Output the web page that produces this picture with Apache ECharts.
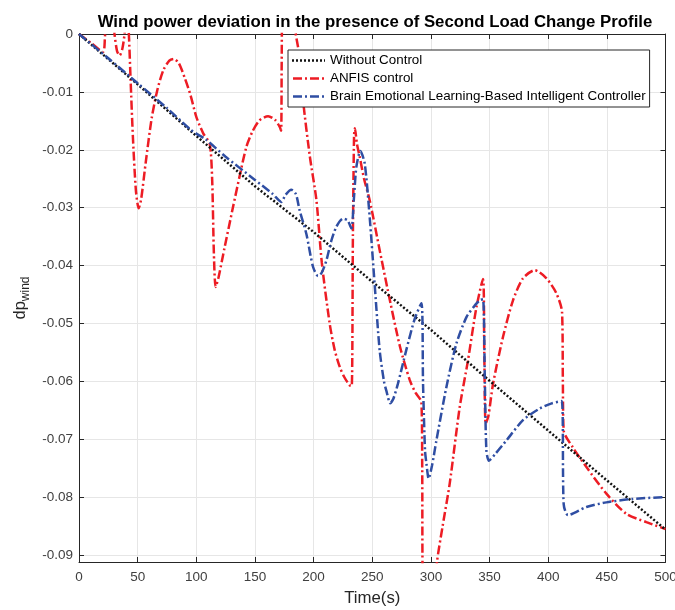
<!DOCTYPE html>
<html>
<head>
<meta charset="utf-8">
<script src="https://cdn.jsdelivr.net/npm/echarts@6/dist/echarts.min.js"></script>
<style>html,body{margin:0;padding:0;background:#fff}#c{width:675px;height:610px}</style>
</head>
<body>
<div id="c"></div>
<script>
const titleText = 'Wind power deviation in the presence of Second Load Change Profile';
const seriesNames = ['Without Control', 'ANFIS control', 'Brain Emotional Learning-Based Intelligent Controller'];
const xTicks = [0, 50, 100, 150, 200, 250, 300, 350, 400, 450, 500];
const yTicks = [0, -0.01, -0.02, -0.03, -0.04, -0.05, -0.06, -0.07, -0.08, -0.09];

const withoutControl = [
  [0, 0], [50, -0.0087], [100, -0.0176], [150, -0.0263], [200, -0.0342], [250, -0.0428],
  [300, -0.0511], [350, -0.0599], [400, -0.0685], [450, -0.0771], [500, -0.0856]
];

const anfis = [
  [0, 0], [10, -0.0015], [20.5, -0.0031], [22, -0.001], [23.5, 0.006], [27, 0.008], [30.3, 0],
  [32.5, -0.0030], [34.7, -0.0037], [37, -0.0025], [38.8, 0], [40.5, 0.006], [42.5, 0],
  [44, -0.008], [46, -0.018], [48.5, -0.027], [50.9, -0.0301], [53, -0.0285], [57, -0.022],
  [62, -0.0145], [67, -0.0095], [72, -0.0062], [77, -0.0046], [80.7, -0.0043], [85, -0.005],
  [90, -0.0075], [95, -0.0105], [100, -0.0143], [106, -0.0172], [111.4, -0.0189],
  [113.5, -0.025], [115, -0.038], [116.5, -0.0437], [119, -0.042], [124, -0.037],
  [131.3, -0.0299], [137, -0.0245], [142.7, -0.0195], [148, -0.0168], [154, -0.0149],
  [161.2, -0.0142], [167, -0.0148], [171, -0.016], [172.3, -0.0167], [172.8, -0.005],
  [173.5, 0.005], [180, 0.008], [184, 0.001], [186.7, -0.0022], [188, -0.0033], [191, -0.0114],
  [196.7, -0.0210], [202.4, -0.0287], [207, -0.0395], [213.7, -0.0500], [218, -0.0546],
  [222.3, -0.0575], [226, -0.0592], [230.8, -0.0607], [232.5, -0.0608], [233.5, -0.035],
  [234.5, -0.0175], [235.2, -0.0163], [237, -0.019], [239.3, -0.0212], [243, -0.025],
  [247.8, -0.0287], [256.3, -0.0373], [263, -0.0440], [273.4, -0.0538], [282, -0.0598],
  [287, -0.0620], [291.9, -0.0636], [292.6, -0.075], [293, -0.095], [298, -0.105],
  [303, -0.098], [305.2, -0.0912], [310, -0.085], [316, -0.0777], [324.6, -0.0644],
  [331.6, -0.0564], [338.8, -0.0472], [344.4, -0.0423], [345.5, -0.055], [346.7, -0.0673],
  [349, -0.066], [353, -0.0604], [361.5, -0.0523], [370, -0.046], [378.5, -0.0422],
  [388.5, -0.0408], [398.5, -0.0422], [407, -0.0448], [411.8, -0.048], [412.5, -0.060],
  [413.2, -0.0685], [421, -0.0714], [432.6, -0.0748], [449.6, -0.0794], [466.7, -0.0829],
  [483.7, -0.0843], [500, -0.0855]
];

const bel = [
  [0, 0], [25, -0.0042], [50, -0.0085], [75, -0.0128], [95, -0.0165], [100, -0.0172],
  [108, -0.0182], [125, -0.0212], [150, -0.0252], [165, -0.0276], [172.5, -0.0290],
  [176, -0.0278], [181, -0.0269], [185, -0.0277], [188, -0.0304], [193.8, -0.0345],
  [199.5, -0.0402], [203.8, -0.0418], [207, -0.0412], [210.9, -0.0391], [215, -0.0358],
  [219.4, -0.0333], [225, -0.0319], [229, -0.0322], [232.2, -0.0336], [234.5, -0.028],
  [236.5, -0.0229], [239.9, -0.0202], [243.6, -0.0224], [247.8, -0.0316], [252, -0.0431],
  [256.3, -0.0546], [260, -0.0600], [262, -0.0616], [265.4, -0.0638], [268, -0.0630],
  [271.9, -0.0604], [279, -0.0546], [286.2, -0.0492], [291.9, -0.0465], [293.3, -0.0604],
  [295, -0.072], [296.2, -0.0742], [298.1, -0.0768], [301, -0.0745], [304.7, -0.0702],
  [313.2, -0.0610], [321.7, -0.0535], [330.3, -0.0489], [337, -0.0470], [341.6, -0.0460],
  [344.4, -0.0458], [346, -0.060], [347.3, -0.0719], [349.5, -0.0737], [355, -0.0725],
  [364.4, -0.0702], [378.5, -0.0667], [392.7, -0.0647], [403, -0.0638], [411.5, -0.0634],
  [413.2, -0.0812], [416.9, -0.0831], [432.6, -0.0817], [449.6, -0.0809], [472.3, -0.0803],
  [500, -0.0800]
];

const FONT = 'Liberation Sans, Arial, Helvetica, sans-serif';
const AX = '#262626';
const RED = '#ed1c24', BLUE = '#2f4ea3', BLACK = '#111';

// legend icons drawn as dash patterns (33 x 2.5 units)
function patternPath(pattern, total, h) {
  let d = '', x = 0, i = 0;
  while (x < total) {
    const len = Math.min(pattern[i % pattern.length], total - x);
    if (i % 2 === 0 && len > 0) d += 'M' + x + ',0h' + len + 'v' + h + 'h-' + len + 'z';
    x += pattern[i % pattern.length];
    i++;
  }
  return 'path://' + d;
}
const iconDotted = patternPath([2, 2], 33, 2.5);
const iconDashDot = patternPath([9, 3, 2, 3], 33, 2.5);

const chart = echarts.init(document.getElementById('c'), null, { renderer: 'canvas' });

const xCommon = {
  type: 'value', min: 0, max: 500, interval: 50,
  axisLine: { show: true, onZero: false, lineStyle: { color: AX, width: 1 } },
  axisTick: { show: true, inside: true, length: 5, lineStyle: { color: AX } }
};
const yCommon = {
  type: 'value', min: -0.0912, max: 0, interval: 0.01,
  axisLine: { show: true, onZero: false, lineStyle: { color: AX, width: 1 } },
  axisTick: { show: true, inside: true, length: 5, lineStyle: { color: AX }, customValues: yTicks }
};

chart.setOption({
  backgroundColor: '#fff',
  animation: false,
  title: {
    text: titleText, left: 370, top: 9, textAlign: 'center',
    textStyle: { fontFamily: FONT, fontSize: 16.8, fontWeight: 'bold', color: '#000' }
  },
  grid: { left: 79, right: 9.5, top: 34, bottom: 48, containLabel: false, outerBoundsMode: 'none' },
  legend: {
    orient: 'vertical', left: 288, top: 50,
    itemWidth: 33, itemHeight: 2.5, itemGap: 3, padding: [3, 4, 3, 4],
    backgroundColor: '#fff', borderColor: AX, borderWidth: 1, borderRadius: 0,
    textStyle: { fontFamily: FONT, fontSize: 13.4, color: '#000', lineHeight: 15 },
    data: [
      { name: seriesNames[0], icon: iconDotted, itemStyle: { color: BLACK } },
      { name: seriesNames[1], icon: iconDashDot, itemStyle: { color: RED } },
      { name: seriesNames[2], icon: iconDashDot, itemStyle: { color: BLUE } }
    ]
  },
  xAxis: [
    Object.assign({}, xCommon, {
      position: 'bottom',
      splitLine: { show: true, lineStyle: { color: '#e6e6e6', width: 1 } },
      axisLabel: { color: '#404040', fontFamily: FONT, fontSize: 13.5, margin: 8,
        customValues: xTicks },
      name: 'Time(s)', nameLocation: 'middle', nameGap: 28,
      nameTextStyle: { fontFamily: FONT, fontSize: 16.8, color: '#262626' }
    }),
    Object.assign({}, xCommon, {
      position: 'top', axisLabel: { show: false }, splitLine: { show: false }
    })
  ],
  yAxis: [
    Object.assign({}, yCommon, {
      position: 'left',
      splitLine: { show: true, lineStyle: { color: '#e6e6e6', width: 1 } },
      axisLabel: { color: '#404040', fontFamily: FONT, fontSize: 13.5, margin: 6,
        customValues: yTicks,
        formatter: v => (v === 0 ? '0' : v.toFixed(2)) },
      name: '{a|dp}{b|wind}', nameLocation: 'middle', nameGap: 46, nameRotate: 90,
      nameTextStyle: {
        fontFamily: FONT, color: '#262626',
        rich: {
          a: { fontFamily: FONT, fontSize: 16.5, color: '#262626', verticalAlign: 'top', lineHeight: 19 },
          b: { fontFamily: FONT, fontSize: 12, color: '#262626', verticalAlign: 'bottom', padding: [9, 0, 0, 0], lineHeight: 14 }
        }
      }
    }),
    Object.assign({}, yCommon, {
      position: 'right', axisLabel: { show: false }, splitLine: { show: false }
    })
  ],
  series: [
    {
      name: seriesNames[0], type: 'line', data: withoutControl, showSymbol: false, symbol: 'none',
      clip: true, z: 3,
      lineStyle: { color: BLACK, width: 2.5, type: [2, 2] }, itemStyle: { color: BLACK }
    },
    {
      name: seriesNames[1], type: 'line', data: anfis, showSymbol: false, symbol: 'none',
      clip: true, smooth: 0.25, z: 2,
      lineStyle: { color: RED, width: 2.5, type: [9, 3, 2, 3] }, itemStyle: { color: RED }
    },
    {
      name: seriesNames[2], type: 'line', data: bel, showSymbol: false, symbol: 'none',
      clip: true, smooth: 0.25, z: 4,
      lineStyle: { color: BLUE, width: 2.5, type: [9, 3, 2, 3] }, itemStyle: { color: BLUE }
    }
  ]
});
</script>
</body>
</html>
